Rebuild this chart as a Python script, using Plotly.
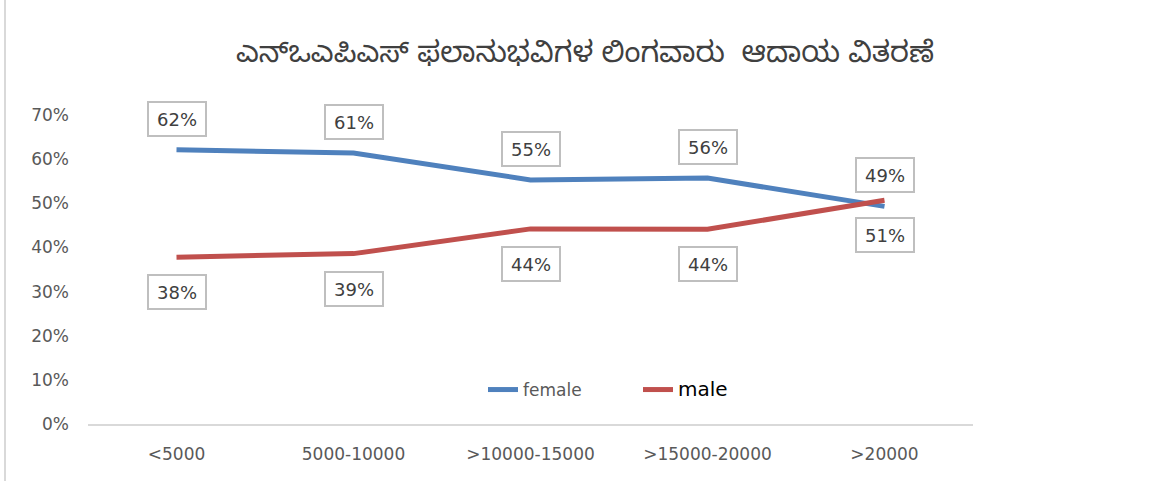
import plotly.graph_objects as go

# Income bands of beneficiaries and the share of each gender within them
categories = ["<5000", "5000-10000", ">10000-15000", ">15000-20000", ">20000"]
female = [0.621, 0.614, 0.553, 0.557, 0.493]
male = [0.378, 0.386, 0.442, 0.441, 0.507]
y_ticks = [0, 0.1, 0.2, 0.3, 0.4, 0.5, 0.6, 0.7]

title_text = "ಎನ್ಒಎಪಿಎಸ್ ಫಲಾನುಭವಿಗಳ ಲಿಂಗವಾರು  ಆದಾಯ ವಿತರಣೆ"

BLUE = "#4F81BD"
RED = "#C0504D"
TEXT = "#595959"
FONT = "DejaVu Sans, Open Sans, sans-serif"

fig = go.Figure()
fig.add_trace(go.Scatter(
    x=categories, y=female, mode="lines", name="female",
    line=dict(color=BLUE, width=5),
))
fig.add_trace(go.Scatter(
    x=categories, y=male, mode="lines",
    name="<span style='font-size:20px;fill:#000000'>male</span>",
    line=dict(color=RED, width=5),
))

# Boxed value labels: female above the line, male below
def add_labels(values, shift):
    for cat, v in zip(categories, values):
        fig.add_annotation(
            x=cat, y=v, xref="x", yref="y", yshift=shift,
            text=f"{round(v * 100)}%", showarrow=False,
            font=dict(family=FONT, size=18, color="#404040"),
            bgcolor="white", bordercolor="#BFBFBF", borderwidth=2,
            width=54, height=30,
        )

add_labels(female, 31)
add_labels(male, -35)

fig.update_layout(
    width=1157, height=481,
    margin=dict(l=88, r=184, t=115, b=57),
    paper_bgcolor="white", plot_bgcolor="white",
    title=dict(
        text=title_text, x=585 / 1157, xanchor="center",
        y=1 - 52 / 481, yanchor="middle",
        font=dict(family="Noto Sans Kannada, Noto Sans, sans-serif", size=29, color="#404040"),
    ),
    font=dict(family=FONT, color=TEXT),
    showlegend=True,
    legend=dict(
        orientation="h", x=(483 - 88) / 885, xanchor="left",
        y=(424 - 390) / 309, yanchor="middle",
        font=dict(family=FONT, size=17, color=TEXT),
        bgcolor="rgba(0,0,0,0)", entrywidth=110, entrywidthmode="pixels",
        tracegroupgap=0,
    ),
    xaxis=dict(
        type="category", range=[-0.5, 4.5],
        showgrid=False, zeroline=False,
        showline=True, linecolor="#D9D9D9", linewidth=1.5,
        ticks="", tickfont=dict(family=FONT, size=17, color=TEXT),
        ticklabelstandoff=14,
    ),
    yaxis=dict(
        range=[0, 0.7], tickvals=y_ticks, tickformat=".0%",
        showgrid=False, zeroline=False, showline=False,
        ticks="", tickfont=dict(family=FONT, size=17, color=TEXT),
        ticklabelstandoff=18,
    ),
    shapes=[
        dict(type="line", xref="paper", yref="paper",
             x0=-83 / 885, x1=-83 / 885, y0=-57 / 309, y1=(481 - 57) / 309 - 0 + 115 / 309,
             line=dict(color="#D9D9D9", width=2)),
    ],
)

fig.write_html("out.html")
